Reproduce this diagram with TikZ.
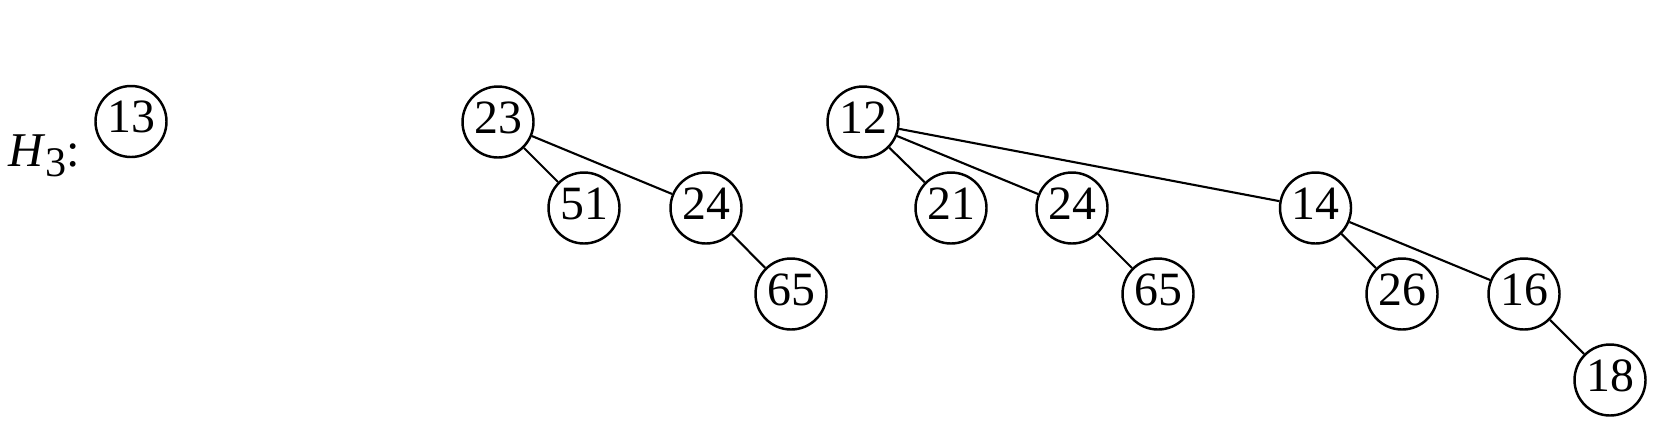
\documentclass[tikz,border=0pt]{standalone}
\usepackage{fontspec}
\setmainfont{Liberation Serif}
\usepackage{tikz}
\tikzset{
	heapnode/.style={draw, circle, line width=0.7pt, minimum size=0.71cm, inner sep=0pt,
		text height=0.3cm, text depth=0.08cm, font=\fontsize{13.6}{15}\selectfont},
	heapedge/.style={line width=0.6pt}
}

\begin{document}
\begin{tikzpicture}
			%%%%% START %%%%%
			
			\useasboundingbox (0, 0) rectangle (16.6, 4.32);
			
			\node[anchor=base west, inner sep=0pt, font=\fontsize{13.8}{15}\selectfont] (hlabel) at (0.08, 2.66)
				{\textit{H}\raisebox{-3pt}{\fontsize{12}{13}\selectfont 3}:};
			\node[heapnode] (n13) at (1.31, 3.105) {13};
			
			% second tree
			\node[heapnode] (n23) at (4.98, 3.10) {23};
			\node[heapnode] (n51) at (5.84, 2.24) {51};
			\node[heapnode] (n24a) at (7.06, 2.24) {24};
			\node[heapnode] (n65a) at (7.91, 1.38) {65};
			
			\draw[heapedge] (n23) -- (n51);
			\draw[heapedge] (n23) -- (n24a);
			\draw[heapedge] (n24a) -- (n65a);
			
			% third tree
			\node[heapnode] (n12) at (8.63, 3.10) {12};
			\node[heapnode] (n21) at (9.51, 2.24) {21};
			\node[heapnode] (n24b) at (10.72, 2.24) {24};
			\node[heapnode] (n65b) at (11.58, 1.38) {65};
			\node[heapnode] (n14) at (13.155, 2.24) {14};
			\node[heapnode] (n26) at (14.02, 1.38) {26};
			\node[heapnode] (n16) at (15.24, 1.38) {16};
			\node[heapnode] (n18) at (16.10, 0.52) {18};
			
			\draw[heapedge] (n12) -- (n21);
			\draw[heapedge] (n12) -- (n24b);
			\draw[heapedge] (n12) -- (n14);
			\draw[heapedge] (n24b) -- (n65b);
			\draw[heapedge] (n14) -- (n26);
			\draw[heapedge] (n14) -- (n16);
			\draw[heapedge] (n16) -- (n18);
			
			%%%%% END %%%%%
\end{tikzpicture}
\end{document}
